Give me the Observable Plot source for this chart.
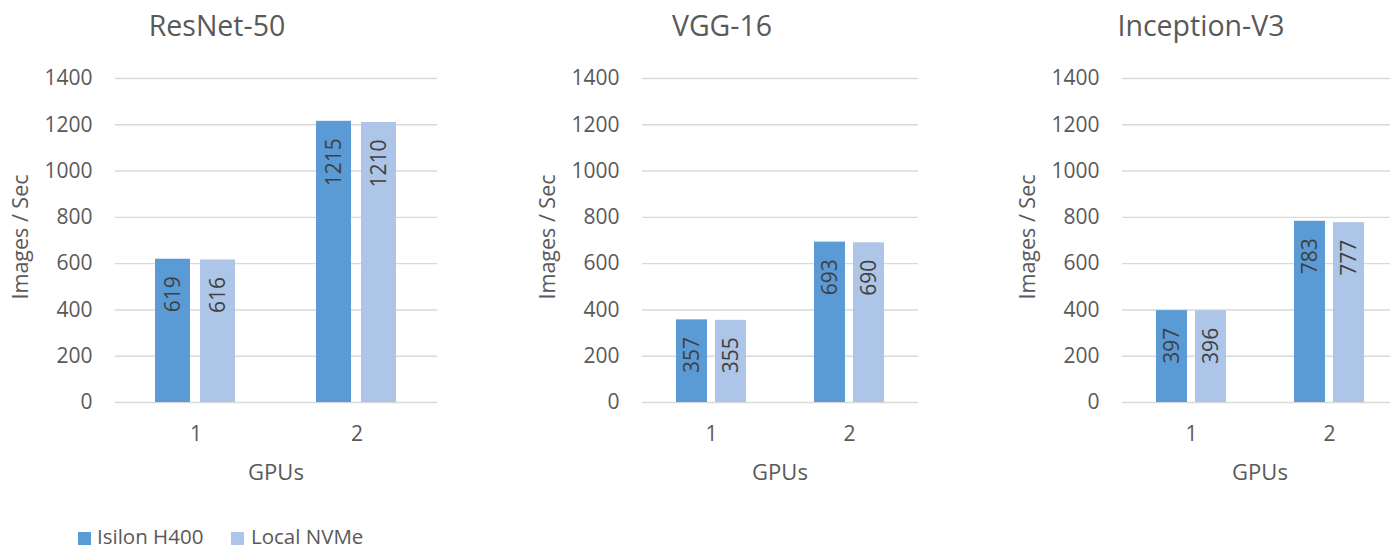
<!DOCTYPE html>
<html><head><meta charset="utf-8">
<script src="https://cdn.jsdelivr.net/npm/d3@7"></script>
<script src="https://cdn.jsdelivr.net/npm/@observablehq/plot@0.6"></script>
<style>
body{margin:0;background:#fff;}
#wrap{position:relative;width:1390px;height:551px;overflow:hidden;background:#fff;font-family:"Open Sans",sans-serif;}
.panel{position:absolute;}
.panel svg{max-width:none !important;}
#overlay{position:absolute;left:0;top:0;pointer-events:none;}
</style></head><body><div id="wrap"></div>
<script>
// ---- data ----
const models = ["ResNet-50", "VGG-16", "Inception-V3"];
const gpus = ["1", "2"];
const series = ["Isilon H400", "Local NVMe"];
const isilonH400 = [[619, 1215], [357, 693], [397, 783]];
const localNVMe = [[616, 1210], [355, 690], [396, 777]];
const yTicks = [0, 200, 400, 600, 800, 1000, 1200, 1400];
const yLabel = "Images / Sec";
const xLabel = "GPUs";
const colors = ["#5B9BD5", "#ADC5E7"];

// ---- layout ----
const panels = [
  {svgLeft: 0, plotWidth: 322},
  {svgLeft: 527, plotWidth: 276},
  {svgLeft: 1007, plotWidth: 276}
];
const marginLeft = 115, marginTop = 28, plotH = 324, marginBottom = 52, svgTop = 50;
const textColor = "#595959";

const wrap = document.getElementById("wrap");

models.forEach((model, mi) => {
  const rows = [];
  gpus.forEach((g, gi) => {
    rows.push({gpu: g, series: series[0], value: isilonH400[mi][gi]});
    rows.push({gpu: g, series: series[1], value: localNVMe[mi][gi]});
  });
  const p = panels[mi];
  const w = marginLeft + p.plotWidth;
  const chart = Plot.plot({
    width: w,
    height: marginTop + plotH + marginBottom,
    marginLeft, marginRight: 0, marginTop, marginBottom,
    style: {fontFamily: "'Open Sans', sans-serif", fontSize: "21px", color: textColor, background: "transparent", overflow: "visible", maxWidth: "none"},
    fx: {domain: gpus, padding: 0, label: null, tickSize: 0, tickPadding: 24},
    x: {domain: series, paddingInner: 0.217, paddingOuter: 0.859, axis: null},
    y: {domain: [0, 1400], ticks: yTicks, tickFormat: d => String(d), tickSize: 0, tickPadding: 23, label: null},
    color: {domain: series, range: colors},
    marks: [
      Plot.ruleY(yTicks, {stroke: "#d9d9d9", strokeWidth: 1.4}),
      Plot.barY(rows, {fx: "gpu", x: "series", y: "value", fill: "series"}),
      Plot.text(rows, {fx: "gpu", x: "series", y: "value", text: d => String(d.value),
        rotate: -90, textAnchor: "end", dy: 17, fontSize: 21, fill: "#404040"})
    ]
  });
  const div = document.createElement("div");
  div.className = "panel";
  div.style.left = p.svgLeft + "px";
  div.style.top = svgTop + "px";
  div.style.width = w + "px";
  div.appendChild(chart);
  wrap.appendChild(div);
});

// ---- titles, axis labels, legend ----
const svg = d3.select(wrap).append("svg").attr("id", "overlay")
  .attr("width", 1390).attr("height", 551)
  .style("font-family", "'Open Sans', sans-serif").attr("fill", textColor);

const yMid = svgTop + marginTop + plotH / 2 - 3;
panels.forEach((p, i) => {
  const plotLeft = p.svgLeft + marginLeft;
  const plotCenter = plotLeft + p.plotWidth / 2;
  const titleX = [217, 722, 1201][i];
  svg.append("text").attr("x", titleX).attr("y", 36).attr("text-anchor", "middle")
    .attr("font-size", 28.5).text(models[i]);
  svg.append("text").attr("transform", `translate(${plotLeft - 87},${yMid}) rotate(-90)`)
    .attr("text-anchor", "middle").attr("font-size", 21.5).text(yLabel);
  svg.append("text").attr("x", plotCenter).attr("y", 480).attr("text-anchor", "middle")
    .attr("font-size", 22).text(xLabel);
});

const legendItems = [{x: 78, tx: 97}, {x: 231, tx: 251}];
series.forEach((s, i) => {
  svg.append("rect").attr("x", legendItems[i].x).attr("y", 532).attr("width", 13).attr("height", 13).attr("fill", colors[i]);
  svg.append("text").attr("x", legendItems[i].tx).attr("y", 544).attr("font-size", 20.5).text(s);
});
</script></body></html>
